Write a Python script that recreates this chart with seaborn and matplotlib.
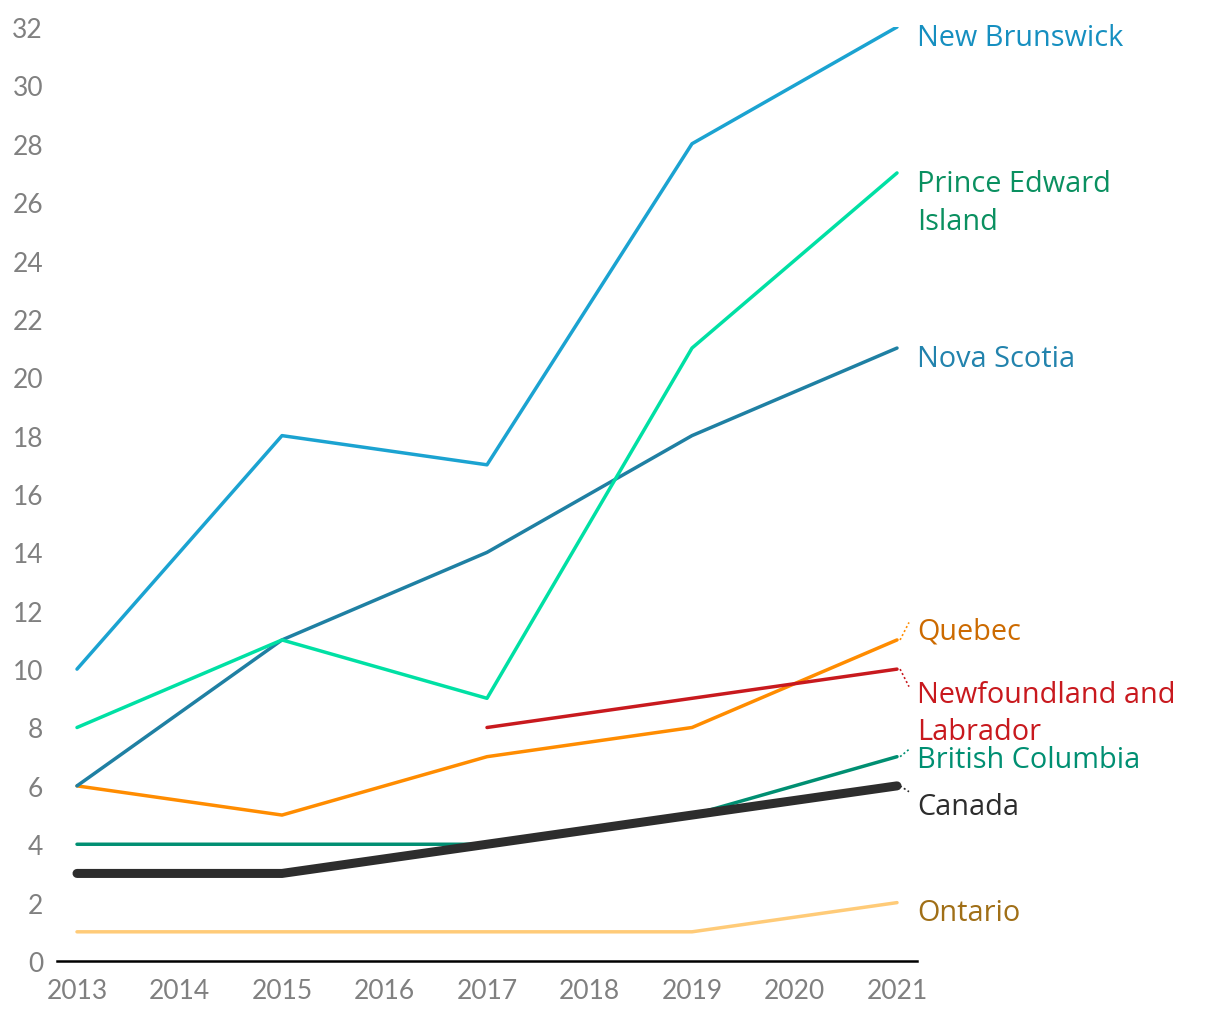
import numpy as np
import pandas as pd
import matplotlib
matplotlib.use("Agg")
import matplotlib.pyplot as plt
import seaborn as sns

years = [2013, 2015, 2017, 2019, 2021]
new_brunswick = [10, 18, 17, 28, 32]
pei = [8, 11, 9, 21, 27]
nova_scotia = [6, 11, 14, 18, 21]
quebec = [6, 5, 7, 8, 11]
newfoundland = [np.nan, np.nan, 8, 9, 10]
british_columbia = [4, 4, 4, 5, 7]
canada = [3, 3, 4, 5, 6]
ontario = [1, 1, 1, 1, 2]

x_ticks = list(range(2013, 2022))
y_ticks = list(range(0, 33, 2))

series = {
    "Ontario": ontario,
    "British Columbia": british_columbia,
    "Quebec": quebec,
    "Newfoundland and Labrador": newfoundland,
    "Nova Scotia": nova_scotia,
    "Prince Edward Island": pei,
    "New Brunswick": new_brunswick,
    "Canada": canada,
}
line_colors = {
    "New Brunswick": "#1ba3d1",
    "Prince Edward Island": "#00e0a4",
    "Nova Scotia": "#1f80a3",
    "Quebec": "#ff8c00",
    "Newfoundland and Labrador": "#c8191e",
    "British Columbia": "#008f72",
    "Canada": "#2d2d2d",
    "Ontario": "#ffcb78",
}
label_colors = {
    "New Brunswick": "#168fc0",
    "Prince Edward Island": "#0a9060",
    "Nova Scotia": "#2283ad",
    "Quebec": "#cc6a00",
    "Newfoundland and Labrador": "#c8191e",
    "British Columbia": "#008f72",
    "Canada": "#2d2d2d",
    "Ontario": "#a06f17",
}
label_text = {
    "New Brunswick": "New Brunswick",
    "Prince Edward Island": "Prince Edward\nIsland",
    "Nova Scotia": "Nova Scotia",
    "Quebec": "Quebec",
    "Newfoundland and Labrador": "Newfoundland and\nLabrador",
    "British Columbia": "British Columbia",
    "Canada": "Canada",
    "Ontario": "Ontario",
}
label_y = {
    "New Brunswick": 31.65,
    "Prince Edward Island": 26.0,
    "Nova Scotia": 20.65,
    "Quebec": 11.3,
    "Newfoundland and Labrador": 8.5,
    "British Columbia": 6.9,
    "Canada": 5.3,
    "Ontario": 1.65,
}
leader_target = {
    "Quebec": 11.6,
    "Newfoundland and Labrador": 9.4,
    "British Columbia": 7.25,
    "Canada": 5.8,
}

rows = []
for name, vals in series.items():
    for yr, v in zip(years, vals):
        rows.append({"year": yr, "value": v, "region": name})
df = pd.DataFrame(rows)

sns.set_theme(style="white")
plt.rcParams["font.family"] = ["Lato", "DejaVu Sans"]

fig = plt.figure(figsize=(12.2, 10.2), dpi=100)
ax = fig.add_axes([57 / 1220, 58 / 1020, 860 / 1220, 934 / 1020])

others = df[df.region != "Canada"]
sns.lineplot(data=others, x="year", y="value", hue="region", palette=line_colors,
             linewidth=2.5, ax=ax, legend=False, solid_capstyle="round")
sns.lineplot(data=df[df.region == "Canada"], x="year", y="value", color=line_colors["Canada"],
             linewidth=6.5, ax=ax, legend=False, solid_capstyle="round")

ax.set_xlim(2013 - 20 / 102.5, 2021 + 20 / 102.5)
ax.set_ylim(0, 32)
ax.set_xticks(x_ticks)
ax.set_yticks(y_ticks)
ax.set_xticklabels([str(t) for t in x_ticks])
ax.set_yticklabels([str(t) for t in y_ticks])
ax.tick_params(axis="both", labelsize=19, labelcolor="#808080", length=0)
ax.tick_params(axis="y", pad=10)
ax.tick_params(axis="x", pad=12)
ax.set_xlabel("")
ax.set_ylabel("")
for s in ["top", "right", "left"]:
    ax.spines[s].set_visible(False)
ax.spines["bottom"].set_color("black")
ax.spines["bottom"].set_linewidth(1.8)

lx = 2021 + 20 / 102.5
for name, vals in series.items():
    ly = label_y[name]
    ax.text(lx, ly, label_text[name], color=label_colors[name], fontsize=20.8,
            family=["Open Sans", "DejaVu Sans"], va="center", ha="left",
            linespacing=1.4, clip_on=False)
    if name in leader_target:
        end = vals[-1]
        ax.plot([2021.03, 2021 + 12 / 102.5], [end, leader_target[name]], color=line_colors[name],
                linestyle=(0, (1.2, 1.5)), linewidth=1.2, clip_on=False)

fig.savefig("out.png", dpi=100)
